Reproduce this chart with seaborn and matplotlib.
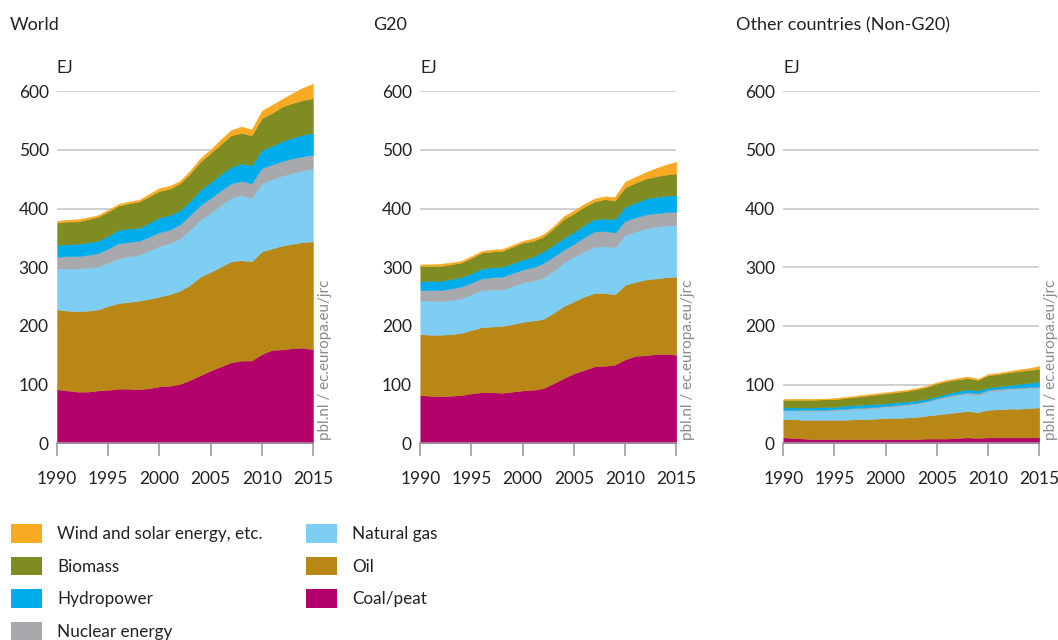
import matplotlib
matplotlib.use('Agg')
import matplotlib.pyplot as plt
from matplotlib.patches import Patch
import pandas as pd
import seaborn as sns

years = list(range(1990, 2016))
sources = ['Coal/peat', 'Oil', 'Natural gas', 'Nuclear energy', 'Hydropower',
           'Biomass', 'Wind and solar energy, etc.']
colors = ['#b4006a', '#b98715', '#7ecef4', '#a8a9ad', '#00adec', '#7e8c21', '#f8aa22']

# World (EJ)
world_coal = [92, 90, 88, 88, 90, 91, 93, 93, 92, 94, 97, 98, 101, 108, 116, 124, 131, 138, 141, 141, 152, 159, 160, 162, 163, 160]
world_oil = [136, 136, 137, 138, 138, 143, 146, 148, 151, 152, 153, 156, 159, 162, 168, 168, 170, 172, 171, 169, 175, 173, 177, 178, 180, 184]
world_gas = [70, 72, 73, 73, 73, 74, 76, 78, 78, 83, 86, 87, 89, 94, 97, 101, 105, 108, 111, 108, 116, 118, 119, 121, 122, 124]
world_nuclear = [20, 21, 21, 22, 23, 24, 26, 24, 24, 23, 24, 23, 24, 25, 25, 25, 25, 25, 24, 25, 26, 25, 25, 25, 24, 24]
world_hydro = [20, 20, 21, 21, 21, 22, 23, 23, 22, 24, 25, 25, 24, 24, 26, 27, 28, 28, 30, 31, 31, 32, 34, 35, 37, 37]
world_biomass = [38, 39, 38, 40, 41, 41, 41, 43, 45, 45, 45, 45, 46, 47, 48, 50, 51, 54, 52, 51, 54, 56, 59, 59, 59, 59]
world_wind = [3, 3, 4, 3, 3, 3, 3, 3, 3, 4, 5, 5, 4, 5, 6, 6, 8, 9, 11, 10, 13, 14, 13, 17, 21, 25]

# G20 (EJ)
g20_coal = [82, 81, 80, 81, 82, 85, 87, 87, 86, 88, 90, 91, 94, 102, 111, 119, 125, 131, 132, 134, 143, 149, 150, 152, 152, 151]
g20_oil = [104, 104, 105, 105, 106, 108, 111, 112, 114, 115, 117, 118, 118, 120, 123, 123, 125, 125, 124, 120, 127, 126, 129, 129, 131, 133]
g20_gas = [57, 58, 57, 58, 59, 61, 63, 63, 62, 65, 67, 68, 70, 72, 74, 76, 77, 79, 80, 80, 85, 86, 87, 88, 88, 88]
g20_nuclear = [18, 18, 19, 20, 20, 20, 20, 21, 22, 22, 22, 23, 25, 24, 22, 22, 24, 26, 26, 25, 24, 24, 24, 23, 23, 23]
g20_hydro = [15, 16, 16, 16, 16, 16, 17, 17, 17, 17, 17, 18, 20, 20, 20, 20, 21, 21, 21, 23, 24, 25, 27, 28, 28, 28]
g20_biomass = [26, 25, 25, 25, 25, 26, 27, 27, 27, 28, 29, 27, 25, 28, 32, 32, 31, 30, 33, 32, 33, 34, 34, 35, 36, 37]
g20_wind = [3, 3, 4, 3, 3, 3, 3, 3, 3, 3, 3, 4, 4, 4, 5, 5, 5, 5, 5, 6, 10, 10, 11, 14, 17, 20]

# Other countries (EJ)
other_coal = [10, 9, 8, 7, 7, 7, 7, 7, 7, 7, 7, 7, 7, 7, 8, 8, 8, 9, 10, 9, 10, 10, 10, 10, 10, 10]
other_oil = [31, 32, 32, 33, 33, 33, 33, 34, 34, 35, 36, 36, 37, 38, 39, 41, 43, 44, 45, 44, 47, 48, 49, 49, 50, 51]
other_gas = [15, 15, 15, 15, 15, 16, 17, 17, 18, 18, 19, 20, 21, 22, 23, 26, 28, 29, 30, 29, 32, 32, 33, 34, 34, 34]
other_nuclear = [1, 1, 2, 2, 2, 2, 2, 2, 2, 2, 2, 2, 2, 2, 2, 2, 2, 2, 2, 3, 2, 3, 2, 2, 2, 2]
other_hydro = [4, 4, 4, 4, 5, 4, 5, 5, 5, 5, 4, 5, 4, 4, 4, 3, 4, 5, 5, 5, 4, 4, 5, 6, 7, 8]
other_biomass = [13, 13, 13, 13, 13, 13, 13, 14, 15, 16, 17, 17, 18, 19, 20, 22, 21, 20, 19, 18, 21, 21, 22, 22, 22, 22]
other_wind = [1.5, 2, 2, 2, 1, 2, 2, 2, 2, 2, 2, 2, 2, 2, 2, 2, 2, 2, 3, 2, 2, 2, 2, 3, 3, 5]

panels = [
    ('World', [world_coal, world_oil, world_gas, world_nuclear, world_hydro, world_biomass, world_wind]),
    ('G20', [g20_coal, g20_oil, g20_gas, g20_nuclear, g20_hydro, g20_biomass, g20_wind]),
    ('Other countries (Non-G20)', [other_coal, other_oil, other_gas, other_nuclear, other_hydro, other_biomass, other_wind]),
]

sns.set_theme(style='white')
plt.rcParams['font.family'] = ['Lato', 'DejaVu Sans']
text_color = '#222222'

fig = plt.figure(figsize=(10.58, 6.4), dpi=100)
W, H = 1058, 640
lefts = [57, 420.3, 783.3]
title_x = [10, 373, 736]

for (title, series), left, tx in zip(panels, lefts, title_x):
    df = pd.DataFrame(dict(zip(sources, series)), index=years)
    ax = fig.add_axes([left / W, (H - 443.3) / H, 256 / W, 352 / H])
    areas = ax.stackplot(df.index, [df[s] for s in sources], colors=colors,
                         linewidth=0.3, edgecolor='face')
    for a in areas:
        a.set_clip_on(False)
    ax.set_xlim(1990, 2015)
    ax.set_ylim(0, 600)
    ax.set_xticks(range(1990, 2016, 5))
    ax.set_yticks(range(0, 601, 100))
    ax.set_axisbelow(True)
    ax.grid(axis='y', color='#cccccc', linewidth=1.3)
    sns.despine(ax=ax, left=True)
    ax.spines['bottom'].set_color('#9d9d9d')
    ax.spines['bottom'].set_linewidth(1.2)
    ax.tick_params(axis='x', length=9, width=1.2, color='#9d9d9d', pad=11,
                   labelsize=12.5, labelcolor=text_color, bottom=True)
    ax.tick_params(axis='y', length=0, pad=6, labelsize=12.5, labelcolor=text_color)
    ax.text(0, 1.066, 'EJ', transform=ax.transAxes, ha='left', va='center',
            fontsize=12, color=text_color)
    ax.text(1.045, 0.01, 'pbl.nl / ec.europa.eu/jrc', transform=ax.transAxes,
            rotation=90, ha='center', va='bottom', fontsize=11, color='#8a8a8a')
    fig.text(tx / W, 1 - 25 / H, title, ha='left', va='center', fontsize=13,
             color=text_color)

handles = [Patch(facecolor=c, edgecolor='none') for c in colors]
col1 = [6, 5, 4, 3]
col2 = [2, 1, 0]
for idx, x in [(col1, 11), (col2, 306)]:
    fig.legend([handles[i] for i in idx], [sources[i] for i in idx],
               loc='upper left', bbox_to_anchor=(x / W, 1 - 524 / H),
               frameon=False, fontsize=12.3, handlelength=1.8, handleheight=1.3,
               handletextpad=0.92, labelspacing=0.82, borderpad=0,
               borderaxespad=0, labelcolor=text_color)

fig.savefig('out.png', dpi=100)
